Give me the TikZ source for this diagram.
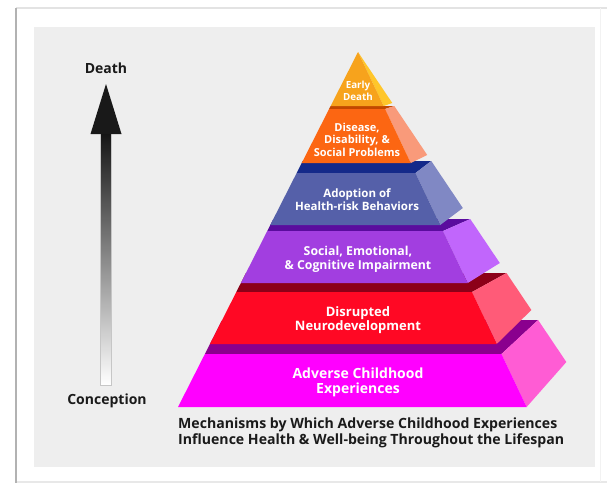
\documentclass[tikz,border=0pt]{standalone}
\usepackage{fontspec}
\setmainfont{Open Sans}
\definecolor{panel}{HTML}{EEEEEE}
\definecolor{ink}{HTML}{1A1A1A}
\definecolor{yelF}{HTML}{F7A31C}\definecolor{yelS}{HTML}{FFC62A}
\definecolor{orgF}{HTML}{FC6612}\definecolor{orgS}{HTML}{F99A7A}\definecolor{orgT}{HTML}{C24800}
\definecolor{bluF}{HTML}{5560A9}\definecolor{bluS}{HTML}{8088C4}\definecolor{bluT}{HTML}{14298A}
\definecolor{purF}{HTML}{A23EE0}\definecolor{purS}{HTML}{C166FC}\definecolor{purT}{HTML}{5A0C9E}
\definecolor{redF}{HTML}{FF0824}\definecolor{redS}{HTML}{FF5B78}\definecolor{redT}{HTML}{8C0018}
\definecolor{magF}{HTML}{FF00FF}\definecolor{magS}{HTML}{FF5CD4}\definecolor{magT}{HTML}{8A008E}
% #1 front top y, #2 front bottom y, #3 back top y, #4 back bottom y, #5 front, #6 side, #7 top
\newcommand\pyrtier[7]{%
  \pgfmathsetmacro\tyA{358-0.507*(#1-52)}%
  \pgfmathsetmacro\tyB{358+0.475*(#1-52)}%
  \pgfmathsetmacro\tyC{358+0.672*(#3-52)}%
  \pgfmathsetmacro\tyD{358-0.507*(#3-52)}%
  \pgfmathsetmacro\tyE{358-0.507*(#2-52)}%
  \pgfmathsetmacro\tyF{358+0.475*(#2-52)}%
  \pgfmathsetmacro\tyG{358+0.672*(#4-52)}%
  \fill[#7] (\tyA,#1) -- (\tyB,#1) -- (\tyC,#3) -- (\tyD,#3) -- cycle;
  \fill[#6] (\tyB,#1) -- (\tyC,#3) -- (\tyG,#4) -- (\tyF,#2) -- cycle;
  \fill[#5] (\tyA,#1) -- (\tyB,#1) -- (\tyF,#2) -- (\tyE,#2) -- cycle;
}
\begin{document}
\begin{tikzpicture}[x=1pt,y=-1pt,
  lbl/.style={text=white,align=center,inner sep=0pt},
  axis/.style={text=ink,font=\bfseries\fontsize{14}{16}\selectfont,inner sep=0pt},
  caption/.style={text=ink,font=\bfseries\fontsize{14.1}{16}\selectfont,align=left,inner sep=0pt,anchor=west}]
\useasboundingbox (0,0) rectangle (607,483);
\fill[white] (0,0) rectangle (607,483);
% frame
\draw[gray!22, line width=2.5pt] (16,8) -- (607,8);
\draw[gray!18, line width=1.5pt] (16,482) -- (607,482);
\draw[gray!60, line width=1.6pt] (16,8) -- (16,483);
\draw[gray!10, line width=1pt] (600,8) -- (600,482);
\fill[panel] (34,27) rectangle (595,467);
% time arrow
\shade[top color=black!92, bottom color=white, draw=gray!45, line width=0.6pt] (100,133) rectangle (111,385);
\fill[black!90] (90.5,134) -- (121.5,134) -- (106,84) -- cycle;
\node[axis] (death) at (106,68) {Death};
\node[axis] (conception) at (107,401) {Conception};
% pyramid tiers, bottom to top
\pyrtier{354}{407}{320}{362}{magF}{magS}{magT}
\pyrtier{292}{344}{273}{310}{redF}{redS}{redT}
\pyrtier{231}{283}{219}{263}{purF}{purS}{purT}
\pyrtier{173}{225}{161}{208}{bluF}{bluS}{bluT}
\pyrtier{109}{163}{106}{155}{orgF}{orgS}{orgT}
\pyrtier{52}{106}{52}{103}{yelF}{yelS}{yelF}
% labels
\node[lbl, font=\bfseries\fontsize{9.8}{12}\selectfont] (early) at (358,91) {Early\\Death};
\node[lbl, font=\bfseries\fontsize{11}{12.5}\selectfont] (disease) at (357,139.5) {Disease,\\Disability, \&\\Social Problems};
\node[lbl, font=\bfseries\fontsize{11.5}{13}\selectfont] (adoption) at (357,199.5) {Adoption of\\Health-risk Behaviors};
\node[lbl, font=\bfseries\fontsize{12.3}{13.5}\selectfont] (social) at (358,259.5) {Social, Emotional,\\\& Cognitive Impairment};
\node[lbl, font=\bfseries\fontsize{13}{14}\selectfont] (disrupted) at (358,320.5) {Disrupted\\Neurodevelopment};
\node[lbl, font=\bfseries\fontsize{14}{15.5}\selectfont] (adverse) at (358,382.5) {Adverse Childhood\\Experiences};
\node[caption] (title) at (178,433) {Mechanisms by Which Adverse Childhood Experiences\\Influence Health \& Well-being Throughout the Lifespan};
\end{tikzpicture}
\end{document}
